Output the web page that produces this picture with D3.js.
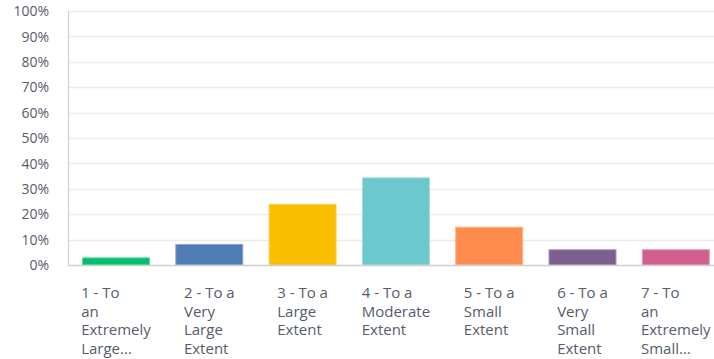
<!DOCTYPE html>
<html><head><meta charset="utf-8">
<script src="https://cdn.jsdelivr.net/npm/d3@7"></script>
<style>
html,body{margin:0;padding:0;background:#fff;}
svg{display:block;font-family:"Open Sans",sans-serif;}
</style></head>
<body><svg id="c" width="714" height="359"></svg>
<script>
const categories = [
  ["1 - To","an","Extremely","Large..."],
  ["2 - To a","Very","Large","Extent"],
  ["3 - To a","Large","Extent"],
  ["4 - To a","Moderate","Extent"],
  ["5 - To a","Small","Extent"],
  ["6 - To a","Very","Small","Extent"],
  ["7 - To","an","Extremely","Small..."]
];
const values = [3.0, 8.3, 24.1, 34.5, 15.1, 6.2, 6.2];
const colors = ["#00bf6f","#507cb6","#f9be00","#6bc8cd","#ff8b4f","#7d5e90","#d25f90"];
const yTicks = [0,10,20,30,40,50,60,70,80,90,100];

(function(){
const svg = d3.select("#c");
const mLeft = 68, mRight = 714, mTop = 11, mBottom = 265;
const step = 93.3;
const x = d3.scaleBand().domain(d3.range(categories.length))
  .range([mLeft, mLeft + step * (categories.length - 0.271 + 0.3)])
  .paddingInner(0.271).paddingOuter(0.15);
const y = d3.scaleLinear().domain([0,100]).range([mBottom, mTop]);

svg.append("g").selectAll("line").data(yTicks.filter(d=>d>0)).join("line")
  .attr("x1", mLeft).attr("x2", mRight)
  .attr("y1", d=>Math.round(y(d))+0.5).attr("y2", d=>Math.round(y(d))+0.5)
  .attr("stroke", "#ececec").attr("stroke-width", 1.5);

svg.append("g").selectAll("text").data(yTicks).join("text")
  .attr("x", 49).attr("y", d=>y(d)+1.5)
  .attr("text-anchor","end").attr("dominant-baseline","middle")
  .attr("font-size", 14).attr("fill", "#565d6b")
  .text(d=>d+"%");

svg.append("g").selectAll("rect").data(values).join("rect")
  .attr("x", (d,i)=>x(i)+0.5).attr("width", x.bandwidth()-1)
  .attr("y", d=>y(d)+0.5).attr("height", d=>mBottom - y(d) - 0.5)
  .attr("fill", (d,i)=>colors[i])
  .attr("stroke", (d,i)=>d3.interpolateRgb(colors[i], "#fff")(0.35))
  .attr("stroke-width", 1);

svg.append("line").attr("x1", mLeft+0.5).attr("x2", mLeft+0.5).attr("y1", mTop).attr("y2", mBottom+1)
  .attr("stroke", "#cfcfcf").attr("stroke-width", 1.2);
svg.append("line").attr("x1", mLeft).attr("x2", mRight).attr("y1", mBottom+0.5).attr("y2", mBottom+0.5)
  .attr("stroke", "#cfcfcf").attr("stroke-width", 1.5);

const lg = svg.append("g");
categories.forEach((lines, i) => {
  const t = lg.append("text").attr("font-size", 15).attr("fill", "#565d6b");
  lines.forEach((ln, j) => {
    t.append("tspan").attr("y", 298 + j * 18.7).text(ln);
  });
  let maxW = 0;
  t.selectAll("tspan").each(function(){ maxW = Math.max(maxW, this.getComputedTextLength()); });
  const cx = x(i) + x.bandwidth()/2;
  t.selectAll("tspan").attr("x", cx - maxW/2);
});
})();
</script></body></html>
